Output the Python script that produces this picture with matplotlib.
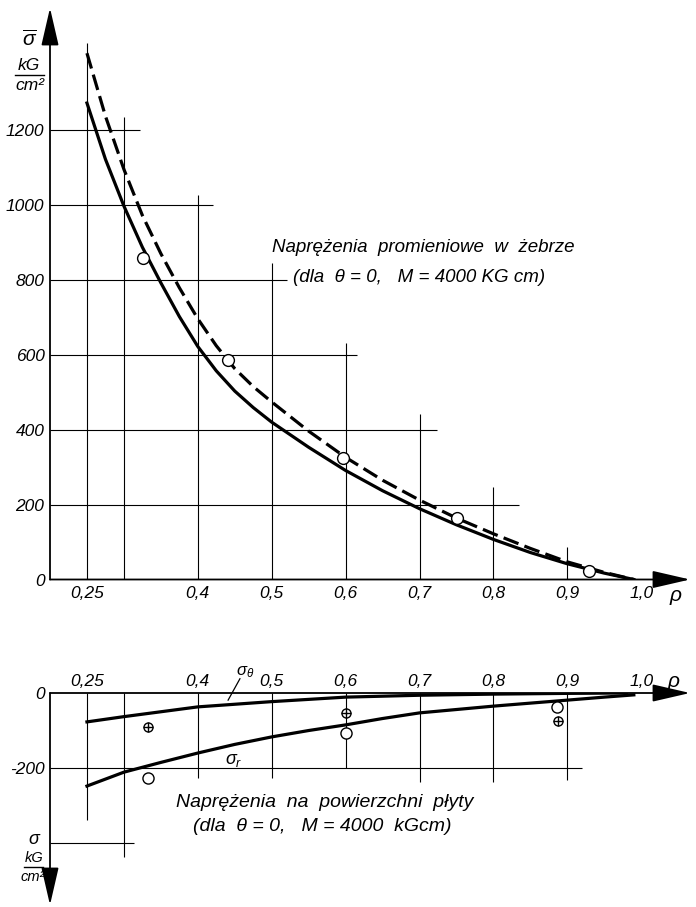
import matplotlib
matplotlib.use("Agg")
import matplotlib.pyplot as plt
from matplotlib.lines import Line2D

plt.rcParams['font.family'] = ['Liberation Sans', 'DejaVu Sans']
plt.rcParams['font.style'] = 'italic'
plt.rcParams['mathtext.fontset'] = 'custom'
plt.rcParams['mathtext.it'] = 'Liberation Sans:italic'
plt.rcParams['mathtext.rm'] = 'Liberation Sans:italic'

# --- top chart: radial stresses in the rib
rho_solid = [0.25, 0.275, 0.30, 0.325, 0.35, 0.375, 0.40, 0.425, 0.45, 0.475, 0.50,
             0.55, 0.60, 0.65, 0.70, 0.75, 0.80, 0.85, 0.90, 0.95, 0.99]
sig_solid = [1272, 1122, 997, 887, 792, 702, 622, 557, 503, 459, 420,
             353, 291, 237, 189, 146, 107, 72, 42, 17, 0]
rho_dash = [0.25, 0.275, 0.30, 0.325, 0.35, 0.375, 0.40, 0.425, 0.45, 0.475, 0.50,
            0.55, 0.60, 0.65, 0.70, 0.75, 0.80, 0.85, 0.90, 0.95, 0.99]
sig_dash = [1405, 1237, 1095, 972, 870, 779, 696, 624, 563, 515, 474,
            396, 326, 265, 212, 164, 122, 83, 47, 19, 0]
rho_pts = [0.326, 0.441, 0.597, 0.751, 0.930]
sig_pts = [858, 586, 324, 164, 23]

# --- bottom chart: stresses on the plate surface
rho_theta = [0.25, 0.30, 0.40, 0.50, 0.60, 0.70, 0.80, 0.90, 0.98]
sig_theta = [-77, -63, -37, -23, -11, -6, -3, -1, 0]
rho_r = [0.25, 0.30, 0.35, 0.40, 0.45, 0.50, 0.55, 0.60, 0.65, 0.70, 0.75, 0.80, 0.85, 0.90, 0.95, 0.99]
sig_r = [-248, -211, -185, -160, -137, -117, -100, -85, -68, -53, -44, -35, -27, -19, -11, -5]
rho_circ = [0.333, 0.600, 0.886]
sig_circ = [-227, -107, -38]
rho_plus = [0.333, 0.600, 0.888]
sig_plus = [-91, -53, -75]

xticks = [0.25, 0.4, 0.5, 0.6, 0.7, 0.8, 0.9, 1.0]
xlabels = ['0,25', '0,4', '0,5', '0,6', '0,7', '0,8', '0,9', '1,0']
yticks_top = [0, 200, 400, 600, 800, 1000, 1200]
yticks_bot = [0, -200]

# staircase grid of the original drawing
vx = [0.25, 0.3, 0.4, 0.5, 0.6, 0.7, 0.8, 0.9]
vtop_top = [1431, 1235, 1026, 845, 631, 442, 247, 87]
hy_top = [1200, 1000, 800, 600, 400, 200]
hend_top = [0.322, 0.421, 0.521, 0.616, 0.724, 0.834]
vbot_bot = [-339, -437, -227, -227, -200, -237, -237, -232]
hy_bot = [-200, -400]
hend_bot = [0.920, 0.313]

W, H = 696, 907
XMIN, XMAX = 0.2, 1.066


def px_box(l, t, r, b):
    return [l / W, 1 - b / H, (r - l) / W, (b - t) / H]


def fig_xy(x, y):
    return x / W, 1 - y / H


fig = plt.figure(figsize=(W / 100, H / 100), dpi=100)
ax1 = fig.add_axes(px_box(50, 8, 690, 579.5))
ax2 = fig.add_axes(px_box(50, 693, 690, 905))
ax1.set_xlim(XMIN, XMAX)
ax1.set_ylim(0, 1525.6)
ax2.set_xlim(XMIN, XMAX)
ax2.set_ylim(-565, 0)

for ax in (ax1, ax2):
    for s in ax.spines.values():
        s.set_visible(False)
    ax.patch.set_alpha(0)

arrow = dict(arrowstyle='-|>,head_length=1.3,head_width=0.3', color='k', lw=1.3,
             shrinkA=0, shrinkB=0, mutation_scale=18)

# top chart
ax1.annotate('', xy=(XMAX, 0), xytext=(XMIN, 0), arrowprops=arrow, annotation_clip=False)
ax1.annotate('', xy=(XMIN, 1525.6), xytext=(XMIN, 0), arrowprops=arrow, annotation_clip=False)
ax1.vlines(vx, 0, vtop_top, color='k', lw=0.8, zorder=1)
ax1.hlines(hy_top, XMIN, hend_top, color='k', lw=0.8, zorder=1)
ax1.plot(rho_solid, sig_solid, color='k', lw=2.3, zorder=3)
ax1.plot(rho_dash, sig_dash, color='k', lw=2.3, ls=(0, (5, 2)), zorder=3)
ax1.plot(rho_pts, sig_pts, 'o', ms=8.5, mfc='white', mec='k', mew=1.0, zorder=5)

ax1.set_xticks(xticks, xlabels)
ax1.set_yticks(yticks_top, [str(v) for v in yticks_top])
ax1.tick_params(axis='x', length=0, pad=5, labelsize=12.5)
ax1.tick_params(axis='y', length=0, pad=4, labelsize=12.5)
ax1.text(1.046, -42, 'ρ', fontsize=15, ha='center', va='center', clip_on=False)
ax1.text(0.501, 885, 'Naprężenia  promieniowe  w  żebrze', fontsize=13.5, ha='left', va='center')
ax1.text(0.529, 805, '(dla  θ = 0,   M = 4000 KG cm)', fontsize=13.5, ha='left', va='center')

# bottom chart
ax2.annotate('', xy=(XMAX, 0), xytext=(XMIN, 0), arrowprops=arrow, annotation_clip=False)
ax2.annotate('', xy=(XMIN, -565), xytext=(XMIN, 0), arrowprops=arrow, annotation_clip=False)
ax2.vlines(vx, vbot_bot, 0, color='k', lw=0.8, zorder=1)
ax2.hlines(hy_bot, XMIN, hend_bot, color='k', lw=0.8, zorder=1)
ax2.plot(rho_theta, sig_theta, color='k', lw=2.3, zorder=3)
ax2.plot(rho_r, sig_r, color='k', lw=2.3, zorder=3)
ax2.plot(rho_circ, sig_circ, 'o', ms=8, mfc='white', mec='k', mew=1.0, zorder=5)
ax2.plot(rho_plus, sig_plus, 'o', ms=6.5, mfc='white', mec='k', mew=1.0, zorder=5)
ax2.plot(rho_plus, sig_plus, '+', ms=6.5, color='k', mew=1.0, zorder=6)

ax2.xaxis.tick_top()
ax2.set_xticks(xticks, xlabels)
ax2.set_yticks(yticks_bot, ['0', '-200'])
ax2.tick_params(axis='x', length=0, pad=3, labelsize=12.5)
ax2.tick_params(axis='y', length=0, pad=4, labelsize=12.5)
ax2.text(1.044, 30, 'ρ', fontsize=15, ha='center', va='center', clip_on=False)
ax2.text(0.452, 56, r'$\sigma_\theta$', fontsize=12, ha='left', va='center', clip_on=False)
ax2.plot([0.441, 0.457], [-19, 38], color='k', lw=0.9, clip_on=False)
ax2.text(0.448, -179, r'$\sigma_r$', fontsize=13, ha='center', va='center')
ax2.text(0.37, -293, 'Naprężenia  na  powierzchni  płyty', fontsize=14, ha='left', va='center')
ax2.text(0.394, -357, '(dla  θ = 0,   M = 4000  kGcm)', fontsize=14, ha='left', va='center')

# axis units
fig.text(*fig_xy(30, 40), r'$\overline{\sigma}$', fontsize=15, ha='center', va='center')
fig.text(*fig_xy(29, 65), 'kG', fontsize=12.5, ha='center', va='center')
fig.add_artist(Line2D([15 / W, 44 / W], [1 - 75 / H, 1 - 75 / H], color='k', lw=1))
fig.text(*fig_xy(30, 86), 'cm²', fontsize=12.5, ha='center', va='center')

fig.text(*fig_xy(35, 840), r'$\sigma$', fontsize=13, ha='center', va='center')
fig.text(*fig_xy(34, 858), 'kG', fontsize=10.5, ha='center', va='center')
fig.add_artist(Line2D([24 / W, 43 / W], [1 - 867 / H, 1 - 867 / H], color='k', lw=1))
fig.text(*fig_xy(33, 877), 'cm²', fontsize=10.5, ha='center', va='center')

fig.savefig('out.png', dpi=100)
